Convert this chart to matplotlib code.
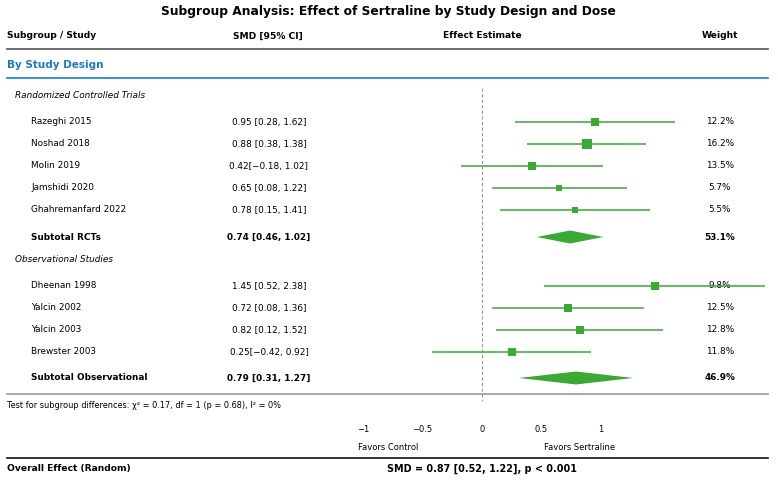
import matplotlib
matplotlib.use("Agg")
import matplotlib.pyplot as plt
import numpy as np

# ---- data ----
rct_studies = ["Razeghi 2015", "Noshad 2018", "Molin 2019", "Jamshidi 2020", "Ghahremanfard 2022"]
rct_smd = [0.95, 0.88, 0.42, 0.65, 0.78]
rct_lo = [0.28, 0.38, -0.18, 0.08, 0.15]
rct_hi = [1.62, 1.38, 1.02, 1.22, 1.41]
rct_weight = [12.2, 16.2, 13.5, 5.7, 5.5]
rct_ci_text = ["0.95 [0.28, 1.62]", "0.88 [0.38, 1.38]", "0.42[\u22120.18, 1.02]",
               "0.65 [0.08, 1.22]", "0.78 [0.15, 1.41]"]
rct_sub = (0.74, 0.46, 1.02)
rct_sub_weight = 53.1

obs_studies = ["Dheenan 1998", "Yalcin 2002", "Yalcin 2003", "Brewster 2003"]
obs_smd = [1.45, 0.72, 0.82, 0.25]
obs_lo = [0.52, 0.08, 0.12, -0.42]
obs_hi = [2.38, 1.36, 1.52, 0.92]
obs_weight = [9.8, 12.5, 12.8, 11.8]
obs_ci_text = ["1.45 [0.52, 2.38]", "0.72 [0.08, 1.36]", "0.82 [0.12, 1.52]", "0.25[\u22120.42, 0.92]"]
obs_sub = (0.79, 0.31, 1.27)
obs_sub_weight = 46.9

x_ticks = [-1, -0.5, 0, 0.5, 1]
x_tick_labels = ["\u22121", "\u22120.5", "0", "0.5", "1"]

overall_text = "SMD = 0.87 [0.52, 1.22], p < 0.001"
het_text = "Test for subgroup differences: \u03c7\u00b2 = 0.17, df = 1 (p = 0.68), I\u00b2 = 0%"

# ---- style ----
GREEN = "#3aaa35"
BLUE = "#1a7bc4"
W, H = 778, 480

fig = plt.figure(figsize=(W / 100, H / 100), dpi=100)
ax = fig.add_axes([0, 0, 1, 1])
ax.set_xlim(0, W)
ax.set_ylim(H, 0)
ax.axis("off")

# forest axis: value 0 at px 482, 1 unit = 119 px
x0px, unit = 482, 119
left_px, right_px = 363, 768
fa = fig.add_axes([left_px / W, 0, (right_px - left_px) / W, 1])
fa.set_xlim((left_px - x0px) / unit, (right_px - x0px) / unit)
fa.set_ylim(H, 0)
fa.axis("off")

fs = 6.4
hs = 6.6
ax.text(W / 2 - 1, 11, "Subgroup Analysis: Effect of Sertraline by Study Design and Dose",
        ha="center", va="center", fontsize=8.8, fontweight="bold")
ax.text(7, 36, "Subgroup / Study", ha="left", va="center", fontsize=hs, fontweight="bold")
ax.text(268, 36, "SMD [95% CI]", ha="center", va="center", fontsize=hs, fontweight="bold")
ax.text(482, 36, "Effect Estimate", ha="center", va="center", fontsize=hs, fontweight="bold")
ax.text(720, 36, "Weight", ha="center", va="center", fontsize=hs, fontweight="bold")
ax.plot([7, 768], [49, 49], color="#555555", lw=1.2)

ax.text(7, 65, "By Study Design", ha="left", va="center", fontsize=7.5, fontweight="bold", color=BLUE)
ax.plot([7, 768], [78, 78], color=BLUE, lw=1.2)

fa.plot([0, 0], [88, 401], color="#999999", lw=0.8, ls=(0, (3, 2)))


def draw_group(title, y_title, names, smd, lo, hi, wts, cis, ys, sub, sub_name, sub_w, y_sub):
    ax.text(15, y_title, title, ha="left", va="center", fontsize=fs, style="italic")
    for n, m, l, h, w, c, y in zip(names, smd, lo, hi, wts, cis, ys):
        ax.text(31, y, n, ha="left", va="center", fontsize=fs)
        ax.text(269, y, c, ha="center", va="center", fontsize=fs)
        ax.text(720, y, f"{w:.1f}%", ha="center", va="center", fontsize=fs)
        fa.plot([l, h], [y, y], color=GREEN, lw=1.1, solid_capstyle="butt")
        size_px = 4 + 0.35 * w
        fa.plot([m], [y], marker="s", color=GREEN, ms=size_px * 0.72, mew=0)
    m, l, h = sub
    ax.text(31, y_sub, sub_name, ha="left", va="center", fontsize=fs, fontweight="bold")
    ax.text(269, y_sub, f"{m:.2f} [{l:.2f}, {h:.2f}]", ha="center", va="center",
            fontsize=fs, fontweight="bold")
    ax.text(720, y_sub, f"{sub_w:.1f}%", ha="center", va="center", fontsize=fs, fontweight="bold")
    fa.fill([l, m, h, m], [y_sub, y_sub - 6.5, y_sub, y_sub + 6.5], color=GREEN, lw=0)


draw_group("Randomized Controlled Trials", 95, rct_studies, rct_smd, rct_lo, rct_hi, rct_weight,
           rct_ci_text, [122, 144, 166, 188, 210], rct_sub, "Subtotal RCTs", rct_sub_weight, 237)
draw_group("Observational Studies", 259, obs_studies, obs_smd, obs_lo, obs_hi, obs_weight,
           obs_ci_text, [286, 308, 330, 352], obs_sub, "Subtotal Observational", obs_sub_weight, 378)

ax.plot([7, 768], [394, 394], color="#999999", lw=1.2)
ax.text(7, 406, het_text, ha="left", va="center", fontsize=5.9)

for t, lab in zip(x_ticks, x_tick_labels):
    fa.text(t, 430, lab, ha="center", va="center", fontsize=6)
fa.text(-0.79, 448, "Favors Control", ha="center", va="center", fontsize=6)
fa.text(0.82, 448, "Favors Sertraline", ha="center", va="center", fontsize=6)

ax.plot([7, 768], [458, 458], color="#111111", lw=1.2)
ax.text(7, 469, "Overall Effect (Random)", ha="left", va="center", fontsize=hs, fontweight="bold")
ax.text(482, 469, overall_text, ha="center", va="center", fontsize=6.9, fontweight="bold")

fig.savefig("out.png", dpi=100)
